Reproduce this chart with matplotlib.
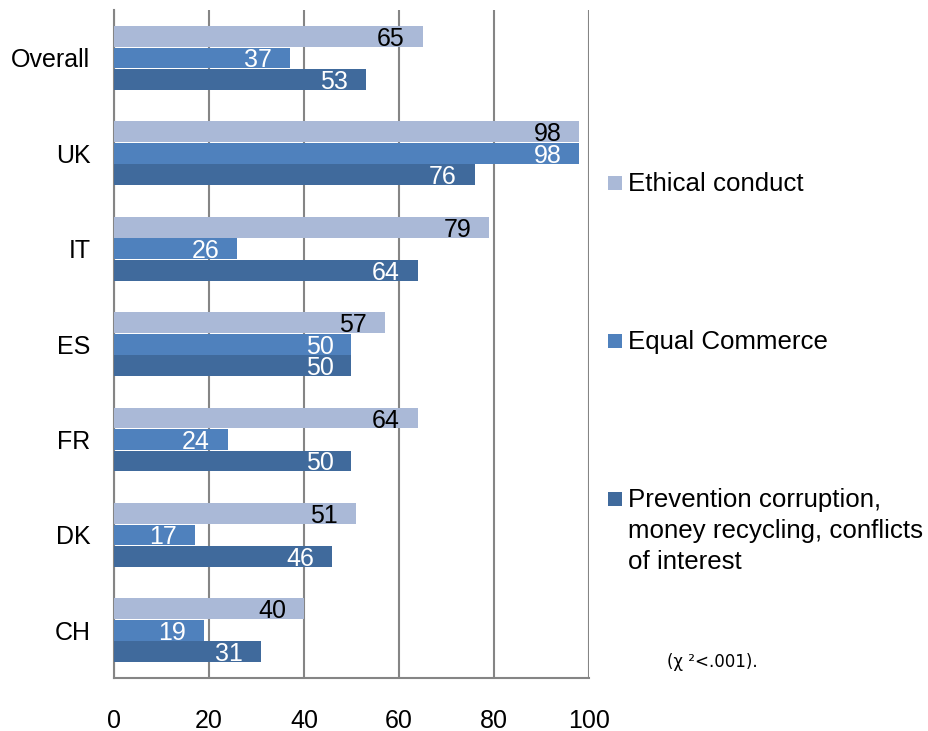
import matplotlib
matplotlib.use("Agg")
from matplotlib import pyplot as plt
from matplotlib.patches import Rectangle
import numpy as np

plt.rcParams["font.family"] = ["Liberation Sans", "DejaVu Sans"]

countries = ["Overall", "UK", "IT", "ES", "FR", "DK", "CH"]
ethical = [65, 98, 79, 57, 64, 51, 40]
equal_commerce = [37, 98, 26, 50, 24, 17, 19]
prevention = [53, 76, 64, 50, 50, 46, 31]

series_labels = [
    "Ethical conduct",
    "Equal Commerce",
    "Prevention corruption,\nmoney recycling, conflicts\nof interest",
]
colors = ["#aab9d7", "#4f81bd", "#406a9c"]
label_colors = ["black", "white", "white"]

fig = plt.figure(figsize=(9.29, 7.31), dpi=100)
ax = fig.add_axes([0.1227, 0.0725, 0.5113, 0.9135])

y = np.arange(len(countries))
offset = 0.225
bar_h = 0.218
fs = 18

for i, (vals, col, lcol) in enumerate(zip([ethical, equal_commerce, prevention], colors, label_colors)):
    pos = y + (i - 1) * offset
    ax.barh(pos, vals, height=bar_h, color=col, zorder=3)
    for p, v in zip(pos, vals):
        ax.annotate(str(v), (v, p), xytext=(-13, 0), textcoords="offset points",
                    ha="right", va="center_baseline", fontsize=fs, color=lcol, zorder=4)

ax.set_xlim(0, 100)
ax.set_ylim(len(countries) - 0.5, -0.5)
ax.set_xticks([0, 20, 40, 60, 80, 100])
ax.set_yticks(y)
ax.set_yticklabels(countries, fontsize=fs)
ax.tick_params(axis="x", labelsize=fs, length=0, pad=22)
ax.tick_params(axis="y", length=0, pad=17)
ax.xaxis.grid(True, color="#858585", linewidth=1.5, zorder=0)
for side in ["top", "right"]:
    ax.spines[side].set_visible(False)
for side in ["left", "bottom"]:
    ax.spines[side].set_color("#858585")
    ax.spines[side].set_linewidth(1.5)

# legend entries placed by hand, spread down the right side
W, H = 929, 731
legend_y = [183, 341, 499]
for lab, col, ly in zip(series_labels, colors, legend_y):
    fig.patches.append(Rectangle((608 / W, 1 - (ly + 7) / H), 14 / W, 14 / H,
                                 facecolor=col, edgecolor="none", transform=fig.transFigure))
    fig.text(628 / W, 1 - (ly - 11) / H, lab, ha="left", va="top", fontsize=18.6,
             linespacing=1.38)

fig.text(712 / W, 1 - 662 / H, "(χ ²<.001).", ha="center", va="center", fontsize=12,
         family=["DejaVu Sans"])

fig.savefig("out.png", dpi=100)
